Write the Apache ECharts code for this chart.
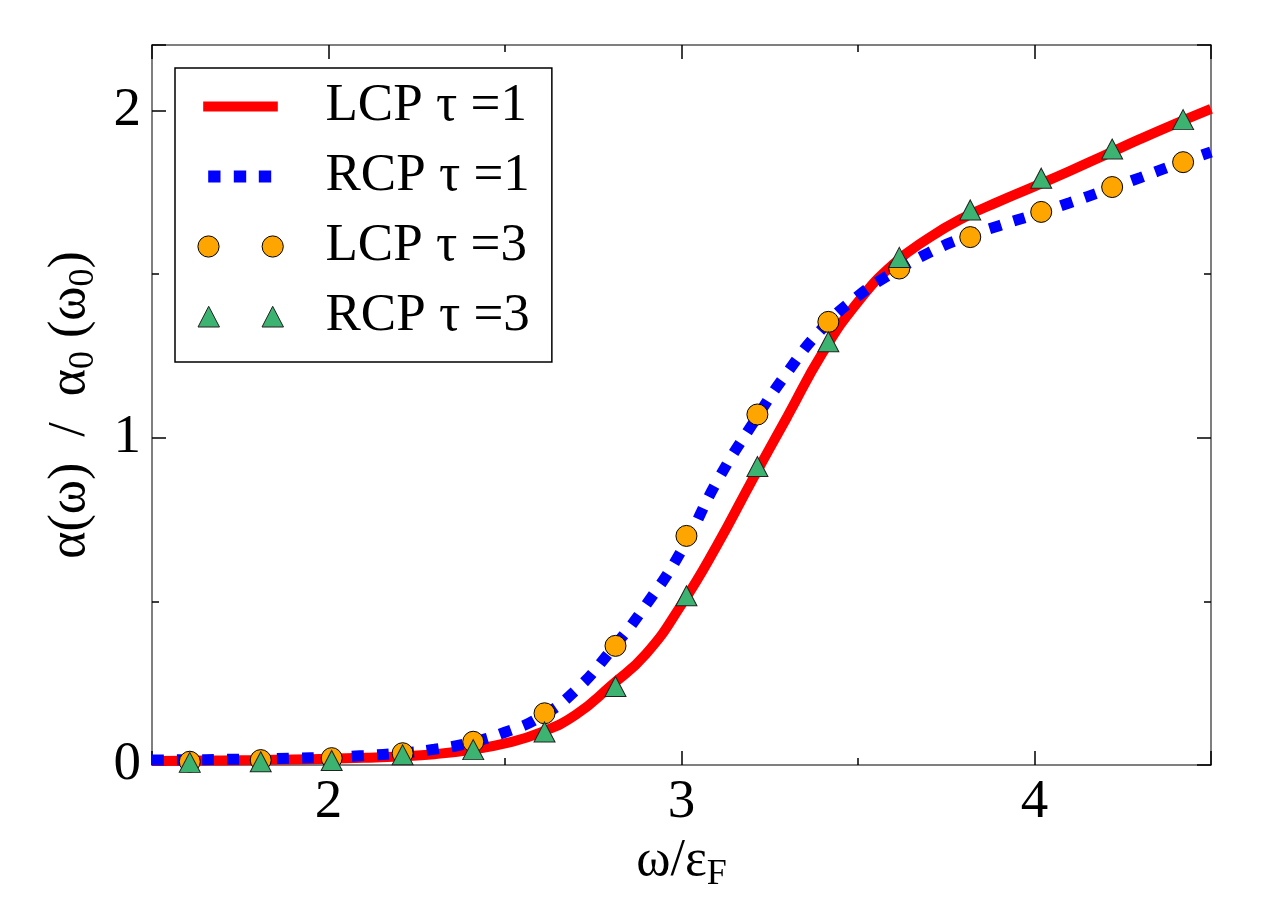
<!DOCTYPE html>
<html>
<head>
<meta charset="utf-8">
<script src="https://cdn.jsdelivr.net/npm/echarts@6/dist/echarts.min.js"></script>
<style>
  html, body { margin: 0; padding: 0; background: #fff; }
  #main { width: 1275px; height: 900px; }
</style>
</head>
<body>
<div id="main"></div>
<script>
// curves, sampled every 0.1
var curveX = [1.5, 1.6, 1.7, 1.8, 1.9, 2.0, 2.1, 2.2, 2.3, 2.4, 2.5, 2.6, 2.7, 2.8, 2.9, 3.0,
              3.1, 3.2, 3.3, 3.4, 3.5, 3.6, 3.7, 3.8, 3.9, 4.0, 4.1, 4.2, 4.3, 4.4, 4.5];
var lcpTau1 = [0.012, 0.013, 0.014, 0.015, 0.017, 0.019, 0.022, 0.026, 0.033, 0.046, 0.066, 0.099, 0.153, 0.242, 0.34, 0.49,
               0.67, 0.87, 1.065, 1.26, 1.415, 1.53, 1.61, 1.673, 1.722, 1.768, 1.815, 1.864, 1.913, 1.96, 2.005];
var rcpTau1 = [0.015, 0.016, 0.017, 0.019, 0.021, 0.024, 0.029, 0.036, 0.048, 0.068, 0.10, 0.147, 0.228, 0.35, 0.49, 0.655,
               0.865, 1.04, 1.20, 1.335, 1.433, 1.505, 1.565, 1.612, 1.648, 1.682, 1.718, 1.756, 1.795, 1.835, 1.873];

// markers
var markerX = [1.607, 1.808, 2.009, 2.21, 2.41, 2.612, 2.813, 3.014, 3.215, 3.416, 3.617, 3.818, 4.019, 4.22, 4.421];
var lcpTau3 = [0.010, 0.015, 0.021, 0.036, 0.071, 0.158, 0.364, 0.700, 1.071, 1.354, 1.517, 1.613, 1.690, 1.766, 1.842];
var rcpTau3 = [0.008, 0.010, 0.014, 0.031, 0.047, 0.101, 0.240, 0.517, 0.912, 1.293, 1.551, 1.696, 1.793, 1.882, 1.972];

var names = ['LCP \u03c4 =1', 'RCP \u03c4 =1', 'LCP \u03c4 =3', 'RCP \u03c4 =3'];
var xTicks = [2, 3, 4];
var yTicks = [0, 1, 2];

function pairs(xs, ys) {
    return xs.map(function (x, i) { return [x, ys[i]]; });
}

var serif = 'Liberation Serif';
var frameColor = '#555';

function makeAxis(pos, major, showLabel, ticks, isX) {
    var ax = {
        type: 'value',
        position: pos,
        min: isX ? 1.5 : 0,
        max: isX ? 4.5 : 2.2,
        splitLine: { show: false },
        axisLine: { show: major, onZero: false, lineStyle: { color: frameColor, width: 1.5 } },
        axisTick: { show: true, inside: true, length: major ? 14 : 7, lineStyle: { color: '#000', width: 1.5 } },
        axisLabel: { show: false }
    };
    if (major) {
        if (isX) {
            ax.minInterval = 1;
            ax.maxInterval = 1;
            ax.splitNumber = 3;
        } else {
            ax.interval = 1;
        }
    } else {
        ax.interval = 0.5;
    }
    if (showLabel) {
        ax.axisLabel = {
            show: true,
            margin: isX ? 10 : 11,
            fontFamily: serif,
            fontSize: 55,
            lineHeight: 55,
            color: '#000',
            showMinLabel: true,
            showMaxLabel: true,
            formatter: function (v) {
                return ticks.indexOf(Math.round(v * 1000) / 1000) >= 0 ? String(v) : '';
            }
        };
    }
    return ax;
}

var titleRich = {
    m: { fontFamily: serif, fontSize: 52, lineHeight: 64, color: '#000' },
    s: { fontFamily: serif, fontSize: 36, lineHeight: 32, verticalAlign: 'bottom', color: '#000' }
};

var xBottom = makeAxis('bottom', true, true, xTicks, true);
xBottom.name = '{m|\u03c9/\u03b5}{s|F}';
xBottom.nameLocation = 'middle';
xBottom.nameGap = 64;
xBottom.nameTextStyle = { rich: titleRich };

var yLeft = makeAxis('left', true, true, yTicks, false);
yLeft.name = '{m|\u03b1(\u03c9)  /  \u03b1}{s|0}{m| (\u03c9}{s|0}{m|)}';
yLeft.nameLocation = 'middle';
yLeft.nameRotate = 90;
yLeft.nameGap = 50;
yLeft.nameTextStyle = { rich: titleRich };

// legend icons drawn in a 123 x 22 box (the two M points fix the box)
var box = 'M0,0 M123,22 ';
var iconLine = 'path://' + box + 'M5.7,6 L80.3,6 L80.3,16 L5.7,16 Z';
var iconDots = 'path://' + box + 'M10.7,5 L23,5 L23,17 L10.7,17 Z M36.3,5 L48.7,5 L48.7,17 L36.3,17 Z M61.3,5 L73.7,5 L73.7,17 L61.3,17 Z';
var iconCircles = 'path://' + box + 'M0.4,11 A10.6,10.6 0 1,0 21.6,11 A10.6,10.6 0 1,0 0.4,11 Z M64.6,11 A10.6,10.6 0 1,0 85.8,11 A10.6,10.6 0 1,0 64.6,11 Z';
var iconTriangles = 'path://' + box + 'M0.5,21.5 L11.2,0.8 L22,21.5 Z M64.5,21.5 L75.2,0.8 L86,21.5 Z';

var myChart = echarts.init(document.getElementById('main'));

var option = {
    backgroundColor: '#fff',
    animation: false,
    grid: { left: 152, right: 64, top: 45, bottom: 135, containLabel: false },
    xAxis: [
        xBottom,
        makeAxis('bottom', false, false, xTicks, true),
        makeAxis('top', true, false, xTicks, true),
        makeAxis('top', false, false, xTicks, true)
    ],
    yAxis: [
        yLeft,
        makeAxis('left', false, false, yTicks, false),
        makeAxis('right', true, false, yTicks, false),
        makeAxis('right', false, false, yTicks, false)
    ],
    legend: {
        left: 175,
        top: 68,
        orient: 'vertical',
        selectedMode: false,
        symbolKeepAspect: false,
        itemWidth: 123,
        itemHeight: 22,
        itemGap: 17,
        padding: [12, 22, 19, 22],
        backgroundColor: '#fff',
        borderColor: '#000',
        borderWidth: 1.5,
        borderRadius: 0,
        textStyle: { fontFamily: serif, fontSize: 53, lineHeight: 50, color: '#000' },
        data: [
            { name: names[0], icon: iconLine, itemStyle: { color: '#ff0000', borderWidth: 0 } },
            { name: names[1], icon: iconDots, itemStyle: { color: '#0000ff', borderWidth: 0 } },
            { name: names[2], icon: iconCircles, itemStyle: { color: '#ffa500', borderColor: '#000', borderWidth: 1 } },
            { name: names[3], icon: iconTriangles, itemStyle: { color: '#3cb371', borderColor: '#222', borderWidth: 1 } }
        ]
    },
    series: [
        {
            name: names[0],
            type: 'line',
            data: pairs(curveX, lcpTau1),
            showSymbol: false,
            smooth: 0.5,
            color: '#ff0000',
            itemStyle: { borderWidth: 0 },
            lineStyle: { color: '#ff0000', width: 10 },
            z: 2
        },
        {
            name: names[1],
            type: 'line',
            data: pairs(curveX, rcpTau1),
            showSymbol: false,
            smooth: 0.5,
            color: '#0000ff',
            itemStyle: { borderWidth: 0 },
            lineStyle: { color: '#0000ff', width: 11, type: [12, 13], cap: 'butt' },
            z: 3
        },
        {
            name: names[2],
            type: 'scatter',
            data: pairs(markerX, lcpTau3),
            symbol: 'circle',
            symbolSize: 21,
            itemStyle: { color: '#ffa500', borderColor: '#000', borderWidth: 1, opacity: 1 },
            z: 4
        },
        {
            name: names[3],
            type: 'scatter',
            data: pairs(markerX, rcpTau3),
            symbol: 'triangle',
            symbolSize: [21, 20],
            itemStyle: { color: '#3cb371', borderColor: '#222', borderWidth: 1, opacity: 1 },
            z: 5
        }
    ]
};

myChart.setOption(option);
</script>
</body>
</html>
